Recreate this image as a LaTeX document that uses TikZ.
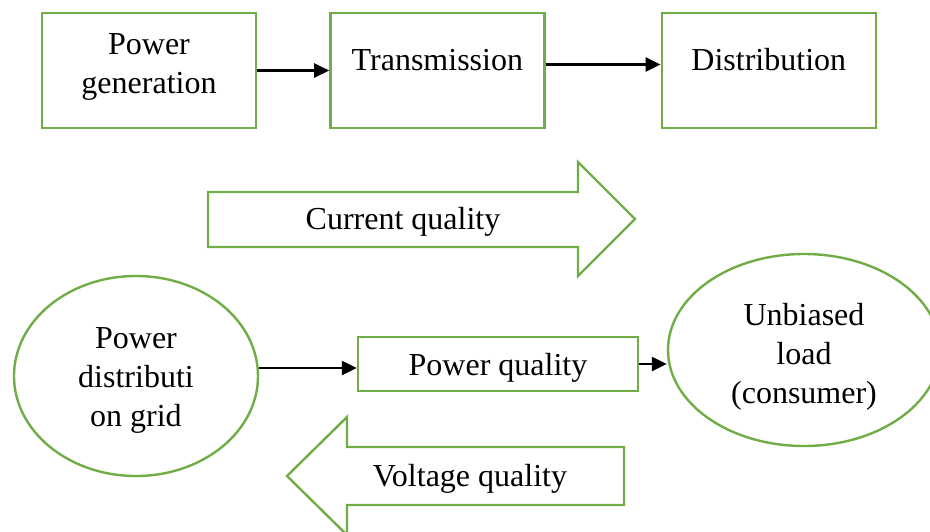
\documentclass[tikz,border=0pt]{standalone}
\usepackage{fontspec}
\setmainfont{Liberation Serif}
\usetikzlibrary{arrows.meta, positioning, shapes.geometric}
\definecolor{boxgreen}{HTML}{70AD47}

\begin{document}
\begin{tikzpicture}[
x=1pt, y=-1pt,
font=\fontsize{32}{39}\selectfont,
block/.style={draw=boxgreen, line width=2.4pt, rectangle, minimum width=214pt, minimum height=115pt, align=center},
oval/.style={draw=boxgreen, line width=2.4pt, ellipse, inner sep=0pt, align=center},
bigarrow/.style={draw=boxgreen, line width=2.4pt, line join=miter},
arrow/.style={-{Triangle[length=15pt, width=14pt]}, line width=2.4pt}
]

% page area
\clip (0,0) rectangle (930,531);

% Top row
\node[block] (gen) at (149,70.5) {Power\\generation\rule[-14pt]{0pt}{0pt}};
\node[block, right=72pt of gen, text depth=22pt] (trans) {Transmission};
\node[block, right=115pt of trans, text depth=22pt] (dist) {Distribution};

% Current quality
\draw[bigarrow] (208,192) -- (578,192) -- (578,162) -- (635,219) -- (578,276) -- (578,247) -- (208,247) -- cycle;
\node (curq) at (403,222) {Current quality};

% Bottom row
\node[oval, minimum width=244pt, minimum height=200pt] (grid) at (136,376) {\rule{0pt}{29pt}Power\\distributi\\on grid};
\node[block, minimum width=280pt, minimum height=54pt, text height=29pt] (pq) at (498,364) {Power quality};
\node[oval, minimum width=272pt, minimum height=192pt] (load) at (804,350) {\rule{0pt}{35pt}Unbiased\\load\\(consumer)};

% Voltage quality
\draw[bigarrow] (624,447) -- (347,447) -- (347,417) -- (287,476) -- (347,535) -- (347,505) -- (624,505) -- cycle;
\node (volq) at (470,479) {Voltage quality};

% Connections
\draw[arrow] (gen) -- (trans);
\draw[arrow] ([yshift=6pt]trans.east) -- ([yshift=6pt]dist.west);
\draw[arrow] ([yshift=-4pt]grid.east |- pq.west) -- ([yshift=-4pt]pq.west);
\draw[arrow] (pq.east) -- (pq.east -| load.west);

\end{tikzpicture}
\end{document}
